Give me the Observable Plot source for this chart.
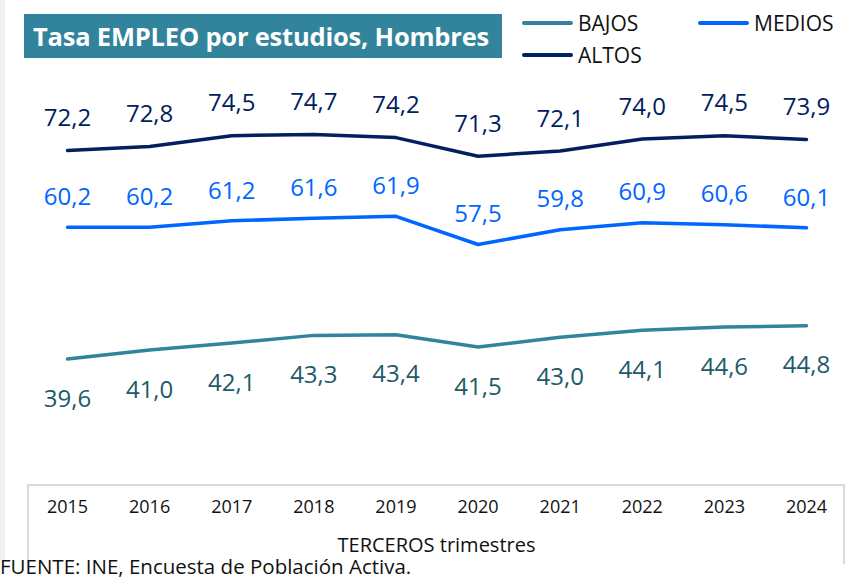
<!DOCTYPE html>
<html>
<head>
<meta charset="utf-8">
<script src="https://cdn.jsdelivr.net/npm/d3@7"></script>
<script src="https://cdn.jsdelivr.net/npm/@observablehq/plot@0.6"></script>
<style>
  html, body { margin: 0; padding: 0; background: #fff; }
  #wrap { position: relative; width: 853px; height: 581px; overflow: hidden; font-family: "Open Sans", sans-serif; }
  #chart { position: absolute; left: 0; top: 0; }
  #strip { position: absolute; left: 0; top: 0; width: 5px; height: 560px; background: #f0f0f0; }
  #title { position: absolute; left: 24px; top: 14px; width: 478px; height: 44px; background: #31849b; color: #fff;
           font-weight: 700; font-size: 25.5px; line-height: 44px; box-sizing: border-box; padding-left: 9px; white-space: nowrap; letter-spacing: -0.2px; }
  .leg { position: absolute; font-size: 21px; color: #111; line-height: 24px; white-space: nowrap; }
  .leg .sw { display: inline-block; width: 51px; height: 4px; border-radius: 2px; vertical-align: middle; margin-right: 5px; position: relative; top: -2px; }
  #box { position: absolute; left: 27px; top: 484px; width: 818px; height: 80px; border: 2px solid #d9d9d9; border-bottom: none; box-sizing: border-box; }
  #xlabel { position: absolute; left: 0; width: 873px; text-align: center; top: 531px; font-size: 20px; color: #111; }
  #source { position: absolute; left: 0; top: 556px; font-size: 20.5px; line-height: 21px; color: #111; white-space: nowrap; }
</style>
</head>
<body>
<div id="wrap">
  <div id="box"></div>
  <div id="chart"></div>
  <div id="strip"></div>
  <div id="title">Tasa EMPLEO por estudios, Hombres</div>
  <div class="leg" style="left:522px; top:11px;"><span class="sw" style="background:#31849b"></span>BAJOS</div>
  <div class="leg" style="left:698px; top:11px;"><span class="sw" style="background:#0066ff"></span>MEDIOS</div>
  <div class="leg" style="left:522px; top:43px;"><span class="sw" style="background:#002060"></span>ALTOS</div>
  <div id="xlabel">TERCEROS trimestres</div>
  <div id="source">FUENTE: INE, Encuesta de Población Activa.</div>
</div>
<script>
const years = [2015, 2016, 2017, 2018, 2019, 2020, 2021, 2022, 2023, 2024];
const bajos = [39.6, 41.0, 42.1, 43.3, 43.4, 41.5, 43.0, 44.1, 44.6, 44.8];
const medios = [60.2, 60.2, 61.2, 61.6, 61.9, 57.5, 59.8, 60.9, 60.6, 60.1];
const altos = [72.2, 72.8, 74.5, 74.7, 74.2, 71.3, 72.1, 74.0, 74.5, 73.9];
const seriesNames = ["BAJOS", "MEDIOS", "ALTOS"];
const lineColors = ["#31849b", "#0066ff", "#002060"];
const labelColors = ["#215968", "#0066ff", "#002060"];

const seriesValues = [bajos, medios, altos];
const rows = [];
seriesNames.forEach((s, i) => years.forEach((y, j) => rows.push({serie: s, year: y, value: seriesValues[i][j]})));
const fmt = v => v.toFixed(1).replace(".", ",");
const labelOffset = {BAJOS: 40, MEDIOS: -30, ALTOS: -32};

const marks = [];
seriesNames.forEach((s, i) => {
  const d = rows.filter(r => r.serie === s);
  marks.push(Plot.line(d, {x: "year", y: "value", stroke: lineColors[i], strokeWidth: 3.5, strokeLinecap: "round", strokeLinejoin: "round"}));
  marks.push(Plot.text(d, {x: "year", y: "value", text: d => fmt(d.value), fill: labelColors[i], dy: labelOffset[s], fontSize: 24, fontFamily: "Open Sans"}));
});
marks.push(Plot.axisX({ticks: years, tickFormat: d => String(d), tickSize: 0, tickPadding: 80, fontSize: 18, fontFamily: "Open Sans", fill: "#111", label: null}));

const chart = Plot.plot({
  width: 853,
  height: 530,
  marginLeft: 67,
  marginRight: 47,
  marginTop: 100,
  marginBottom: 110,
  x: {type: "linear", domain: [2015, 2024], label: null},
  y: {domain: [30, 80], axis: null},
  style: {background: "transparent", overflow: "visible"},
  marks
});
document.getElementById("chart").appendChild(chart);
</script>
</body>
</html>
